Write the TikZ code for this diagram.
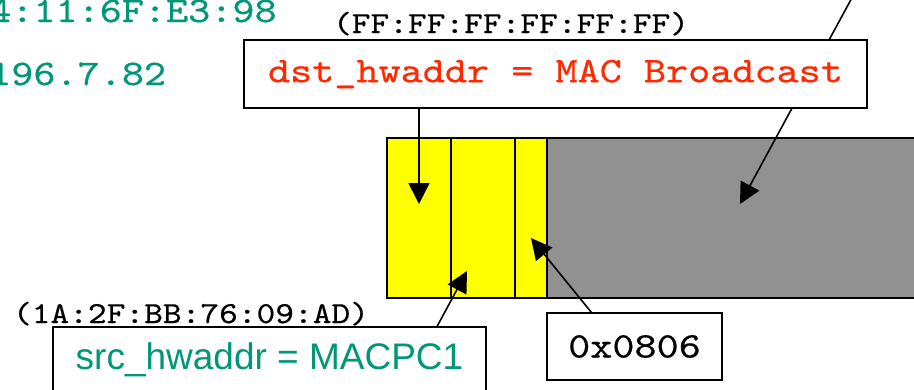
\documentclass[tikz,border=0pt]{standalone}
\usepackage{fontspec}
\setmainfont{Liberation Sans}
\setmonofont{lmmono10-regular.otf}[FakeStretch=1.17,FakeBold=0.5]
\usetikzlibrary{arrows.meta}
\definecolor{grn}{RGB}{0,150,120}
\definecolor{rd}{RGB}{255,40,0}
\definecolor{yel}{RGB}{255,255,0}
\definecolor{gry}{RGB}{145,145,145}
\tikzset{
  lbl/.style={draw=black, line width=1.6pt, fill=white, inner sep=0pt},
  conn/.style={line width=1.6pt, -{Triangle[length=21pt,width=21pt]}},
  big/.style={font=\fontsize{36}{40}\selectfont\ttfamily},
  hex/.style={font=\fontsize{30.5}{34}\selectfont\ttfamily, inner sep=0pt},
  field/.style={draw=black, line width=1.6pt},
}
\begin{document}
\begin{tikzpicture}[x=1pt,y=-1pt]
\useasboundingbox (0,0) rectangle (914,389);
\clip (0,0) rectangle (914,389);
% frame fields
\draw[field, fill=gry] (547,138) rectangle (934,298);
\draw[field, fill=yel] (387,138) rectangle (547,298);
\draw[field] (451,138) -- (451,298);
\draw[field] (515,138) -- (515,298);
\coordinate (t1) at (419,204);
\coordinate (t2) at (740,204);
\coordinate (t3) at (467,271);
\coordinate (t4) at (531,238);
\coordinate (o2) at (854,-6);
% connector behind dst box
\draw[conn] (o2) -- (t2);
% green texts
\node[big, text=grn, anchor=base west, inner sep=0pt] (mac) at (-11,22) {4:11:6F:E3:98};
\node[big, text=grn, anchor=base west, inner sep=0pt] (ip) at (-11,85) {196.7.82};
% labels
\node[hex, anchor=base] (bc) at (511,33) {(FF:FF:FF:FF:FF:FF)};
\node[hex, anchor=base] (sm) at (191,323) {(1A:2F:BB:76:09:AD)};
\node[lbl, big, text=rd, minimum width=623pt, minimum height=68pt] (dst) at (555.5,74) {dst\_hwaddr = MAC Broadcast};
\node[lbl, font=\fontsize{37}{40}\selectfont\rmfamily, text=grn, minimum width=433pt, minimum height=66pt] (src) at (269.5,360) {src\_hwaddr = MACPC1};
\node[lbl, big, minimum width=175pt, minimum height=67pt] (typ) at (634.5,346.5) {0x0806};
% connectors
\draw[conn] (dst.south -| t1) -- (t1);
\draw[conn] ([xshift=385pt]src.north west) -- (t3);
\draw[conn] ([xshift=45pt]typ.north west) -- (t4);
\end{tikzpicture}
\end{document}
